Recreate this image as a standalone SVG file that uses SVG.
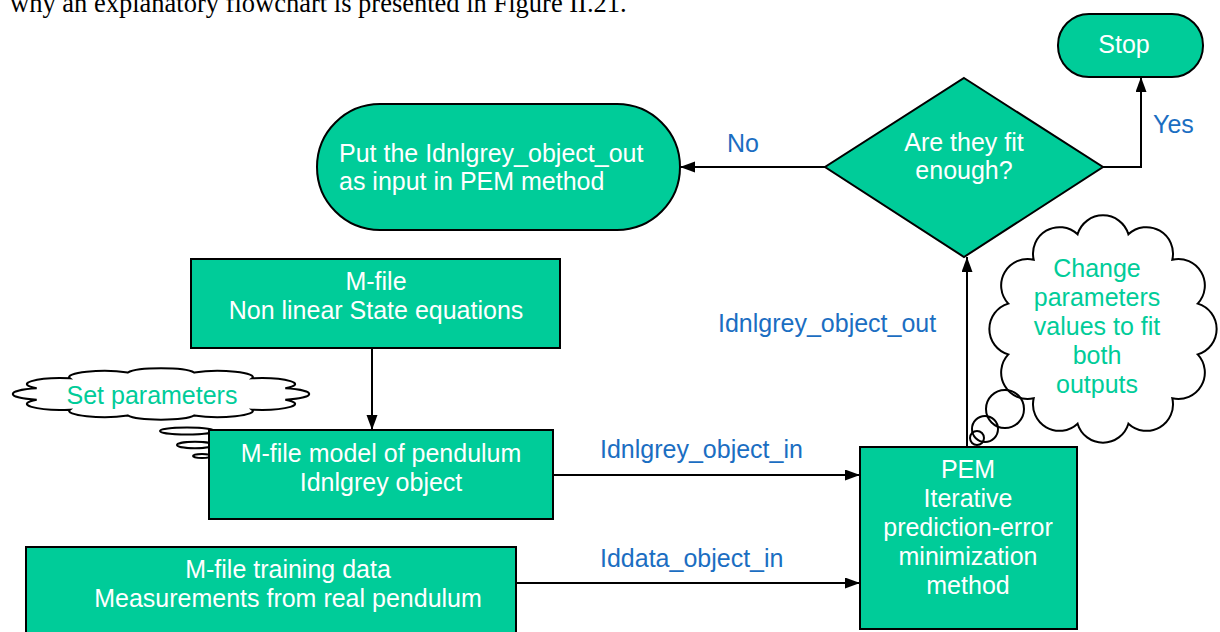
<svg xmlns="http://www.w3.org/2000/svg" width="1220" height="632" viewBox="0 0 1220 632">
<style>
.box{fill:#00CC99;stroke:#000;stroke-width:2}
.nt{font-family:"Liberation Sans",Arial,sans-serif;font-size:25px;fill:#fff;text-anchor:middle}
.ntl{font-family:"Liberation Sans",Arial,sans-serif;font-size:25px;fill:#fff;text-anchor:start}
.lbl{font-family:"Liberation Sans",Arial,sans-serif;font-size:25px;fill:#1B6EC2}
.ct{font-family:"Liberation Sans",Arial,sans-serif;font-size:25px;fill:#00CC99;text-anchor:middle}
.cloud{fill:#fff;stroke:#000;stroke-width:2}
.bub{fill:none;stroke:#000;stroke-width:2}
.conn{fill:none;stroke:#000;stroke-width:2;marker-end:url(#arr)}
</style>
<defs>
<marker id="arr" markerUnits="userSpaceOnUse" markerWidth="16" markerHeight="12" refX="15" refY="5.5" orient="auto">
<path d="M0,0 L15,5.5 L0,11 z" fill="#000"/>
</marker>
</defs>
<rect width="1220" height="632" fill="#fff"/>
<text x="10" y="12" font-family="'Liberation Serif','Times New Roman',serif" font-size="26.5" fill="#000">why an explanatory flowchart is presented in Figure II.21.</text>

<g id="connectors">
<path class="conn" d="M372,348 L372,430"/>
<path class="conn" d="M553,475 L860,475"/>
<path class="conn" d="M516,583 L860,583"/>
<path class="conn" d="M967,447 L967,257"/>
<path class="conn" d="M825,167 L680,167"/>
<path class="conn" d="M1103,167 L1141,167 L1141,77"/>
<text class="lbl" x="727" y="152">No</text>
<text class="lbl" x="1153" y="133">Yes</text>
<text class="lbl" x="718" y="332">Idnlgrey_object_out</text>
<text class="lbl" x="600" y="458">Idnlgrey_object_in</text>
<text class="lbl" x="600" y="567">Iddata_object_in</text>
</g>

<g id="cloud-set-parameters">
<path class="cloud" d="M285.3,399.7 A34.8,6 0 0 1 252,409.7 A34.8,6 0 0 1 194.3,415.4 A34.8,6 0 0 1 127.7,415.4 A34.8,6 0 0 1 70,409.7 A34.8,6 0 0 1 36.7,399.7 A34.8,6 0 0 1 36.7,388.3 A34.8,6 0 0 1 70,378.3 A34.8,6 0 0 1 127.7,372.6 A34.8,6 0 0 1 194.3,372.6 A34.8,6 0 0 1 252,378.3 A34.8,6 0 0 1 285.3,388.3 A34.8,6 0 0 1 285.3,399.7 Z"/>
<ellipse class="bub" cx="187" cy="431" rx="27" ry="3.5"/>
<ellipse class="bub" cx="195" cy="445" rx="18" ry="3.2"/>
<ellipse class="bub" cx="202" cy="456" rx="9" ry="2"/>
<text class="ct" x="152" y="404">Set parameters</text>
</g>

<g id="cloud-change">
<path class="cloud" d="M1197.7,354.4 A26.5,26.5 0 0 1 1172.3,398.3 A26.5,26.5 0 0 1 1128.4,423.7 A26.5,26.5 0 0 1 1077.6,423.7 A26.5,26.5 0 0 1 1033.7,398.3 A26.5,26.5 0 0 1 1008.3,354.4 A26.5,26.5 0 0 1 1008.3,303.6 A26.5,26.5 0 0 1 1033.7,259.7 A26.5,26.5 0 0 1 1077.6,234.3 A26.5,26.5 0 0 1 1128.4,234.3 A26.5,26.5 0 0 1 1172.3,259.7 A26.5,26.5 0 0 1 1197.7,303.6 A26.5,26.5 0 0 1 1197.7,354.4 Z"/>
<circle class="bub" cx="1005" cy="409" r="19"/>
<circle class="bub" cx="985" cy="429" r="13"/>
<circle class="bub" cx="977" cy="438" r="7"/>
<text class="ct" x="1097" y="277">Change</text>
<text class="ct" x="1097" y="306">parameters</text>
<text class="ct" x="1097" y="335">values to fit</text>
<text class="ct" x="1097" y="364">both</text>
<text class="ct" x="1097" y="393">outputs</text>
</g>

<g id="stop">
<rect class="box" x="1058" y="14" width="145" height="63" rx="31" ry="31"/>
<text class="nt" x="1124" y="53">Stop</text>
</g>

<g id="decision">
<polygon class="box" points="964,78 1103,167 964,257 825,167"/>
<text class="nt" x="964" y="151">Are they fit</text>
<text class="nt" x="964" y="179">enough?</text>
</g>

<g id="put-input">
<rect class="box" x="317" y="104" width="363" height="126" rx="63" ry="63"/>
<text class="ntl" x="339" y="162">Put the Idnlgrey_object_out</text>
<text class="ntl" x="339" y="190">as input in PEM method</text>
</g>

<g id="mfile-state">
<rect class="box" x="191" y="259" width="369" height="89"/>
<text class="nt" x="376" y="290">M-file</text>
<text class="nt" x="376" y="319">Non linear State equations</text>
</g>

<g id="mfile-model">
<rect class="box" x="209" y="430" width="344" height="89"/>
<text class="nt" x="381" y="462">M-file model of pendulum</text>
<text class="nt" x="381" y="491">Idnlgrey object</text>
</g>

<g id="training-data">
<rect class="box" x="26" y="547" width="490" height="100"/>
<text class="nt" x="288" y="578">M-file training data</text>
<text class="nt" x="288" y="607">Measurements from real pendulum</text>
</g>

<g id="pem">
<rect class="box" x="860" y="447" width="217" height="182"/>
<text class="nt" x="968" y="478">PEM</text>
<text class="nt" x="968" y="507">Iterative</text>
<text class="nt" x="968" y="536">prediction-error</text>
<text class="nt" x="968" y="565">minimization</text>
<text class="nt" x="968" y="594">method</text>
</g>
</svg>
